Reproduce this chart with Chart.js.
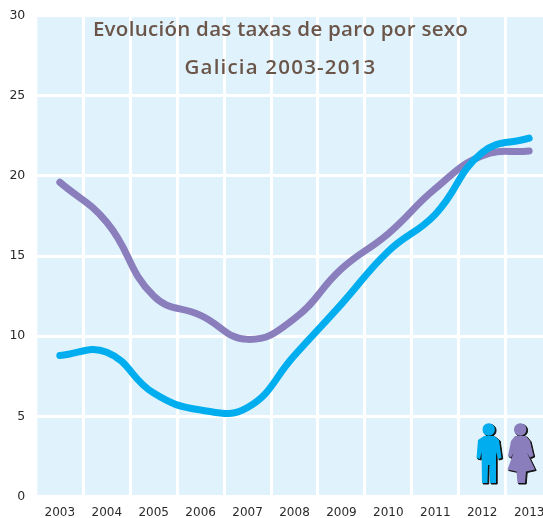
<!DOCTYPE html>
<html><head><meta charset="utf-8">
<style>html,body{margin:0;padding:0;background:#fff}#w{position:relative;width:543px;height:518px}canvas{display:block}</style>
<script src="https://cdn.jsdelivr.net/npm/chart.js@4"></script></head>
<body><div id="w"><canvas id="c" width="543" height="518"></canvas></div>
<script>
const titleLines = ["Evolución das taxas de paro por sexo", "Galicia 2003-2013"];
const years = [2003,2004,2005,2006,2007,2008,2009,2010,2011,2012,2013];
const homes = [8.8,9.0,6.45,5.4,5.55,8.8,12.0,15.3,17.6,21.45,22.35];
const mulleres = [19.6,17.1,12.5,11.3,9.8,11.1,14.2,16.4,19.2,21.25,21.55];
const xGrid = [2003.5,2004.5,2005.5,2006.5,2007.5,2008.5,2009.5,2010.5,2011.5,2012.5];
const pts = a => a.map((v,i)=>({x:years[i],y:v}));

const bg = {id:'bg',beforeDraw(ch){const a=ch.chartArea,c=ch.ctx;c.save();c.fillStyle='#e0f3fd';c.fillRect(a.left,a.top,a.right-a.left,a.bottom-a.top);c.restore();}};

const head = (c,x,y,r)=>{c.moveTo(x+r,y);c.arc(x,y,r,0,Math.PI*2);};
function icon(c,fill,pathFn){
  c.save();
  c.translate(1.2,1);c.fillStyle='#111';c.strokeStyle='#111';c.lineWidth=1;
  c.beginPath();pathFn(c);c.fill();c.stroke();
  c.translate(-1.2,-1);c.fillStyle=fill;
  c.beginPath();pathFn(c);c.fill();
  c.restore();
}
const manPath = c=>{
  head(c,488.7,429.5,6.2);
  c.moveTo(484,436);c.lineTo(494,436);c.lineTo(499,440);c.lineTo(501.5,458);c.lineTo(498,459);
  c.lineTo(496,452);c.lineTo(496,483);c.lineTo(490,483);c.lineTo(489.5,465);c.lineTo(488,465);c.lineTo(487.5,483);c.lineTo(482,483);
  c.lineTo(481.5,452);c.lineTo(480,459);c.lineTo(476.5,458);c.lineTo(478,440);c.closePath();
};
const womanPath = c=>{
  head(c,520.2,429.5,6.2);
  c.moveTo(515,436);c.lineTo(526,436);c.lineTo(530,441);c.lineTo(533.5,456);c.lineTo(530,457.5);c.lineTo(527,453);
  c.lineTo(535,469.5);c.lineTo(526,471.5);c.lineTo(525,483);c.lineTo(517.5,483);c.lineTo(516.5,471.5);c.lineTo(507.5,469.5);
  c.lineTo(513.5,453);c.lineTo(511,457.5);c.lineTo(508,456);c.lineTo(511,441);c.closePath();
};
const deco = {id:'deco',afterDatasetsDraw(ch){
  const c=ch.ctx;
  icon(c,'#00aeef',manPath);
  icon(c,'#8a7fbc',womanPath);
  c.save();
  c.fillStyle='#6b5549';c.textAlign='center';c.textBaseline='alphabetic';
  c.font='600 20.5px "Open Sans"';
  if('letterSpacing' in c)c.letterSpacing='0.28px';
  c.fillText(titleLines[0],280.5,36);
  if('letterSpacing' in c)c.letterSpacing='1.2px';
  c.fillText(titleLines[1],280.5,74);
  c.restore();
}};

new Chart(document.getElementById('c'),{
  type:'line',
  data:{datasets:[
    {label:'Homes',data:pts(homes),borderColor:'#00aeef',borderWidth:7,tension:0.45,pointRadius:0,borderCapStyle:'round',borderJoinStyle:'round'},
    {label:'Mulleres',data:pts(mulleres),borderColor:'#8a7fbc',borderWidth:7,tension:0.45,pointRadius:0,borderCapStyle:'round',borderJoinStyle:'round'}
  ]},
  plugins:[bg,deco],
  options:{
    responsive:false,animation:false,devicePixelRatio:1,
    layout:{padding:{top:15.5,right:0,bottom:0,left:0},autoPadding:false},
    plugins:{legend:{display:false},title:{display:false},tooltip:{enabled:false}},
    scales:{
      x:{type:'linear',min:2002.52,max:2013.295,
        afterBuildTicks(s){s.ticks=[...years,...xGrid].sort((a,b)=>a-b).map(v=>({value:v}));},
        afterFit(s){s.height=21.5;s.paddingLeft=0;s.paddingRight=0;},
        border:{display:false},
        grid:{drawTicks:false,lineWidth:3,color:ctx=>(ctx.tick&&Number.isInteger(ctx.tick.value))?'rgba(0,0,0,0)':'#ffffff'},
        ticks:{autoSkip:false,maxRotation:0,padding:9.5,color:'#2b2b2b',font:{family:'DejaVu Sans',size:12},
          callback:v=>Number.isInteger(v)?String(v):''}
      },
      y:{min:0,max:30,
        afterFit(s){s.width=37.3;s.paddingTop=0;s.paddingBottom=0;},
        border:{display:false},
        grid:{drawTicks:false,lineWidth:3,color:'#ffffff'},
        ticks:{stepSize:5,padding:12,color:'#2b2b2b',font:{family:'DejaVu Sans',size:12.5}}
      }
    }
  }
});
</script></body></html>
